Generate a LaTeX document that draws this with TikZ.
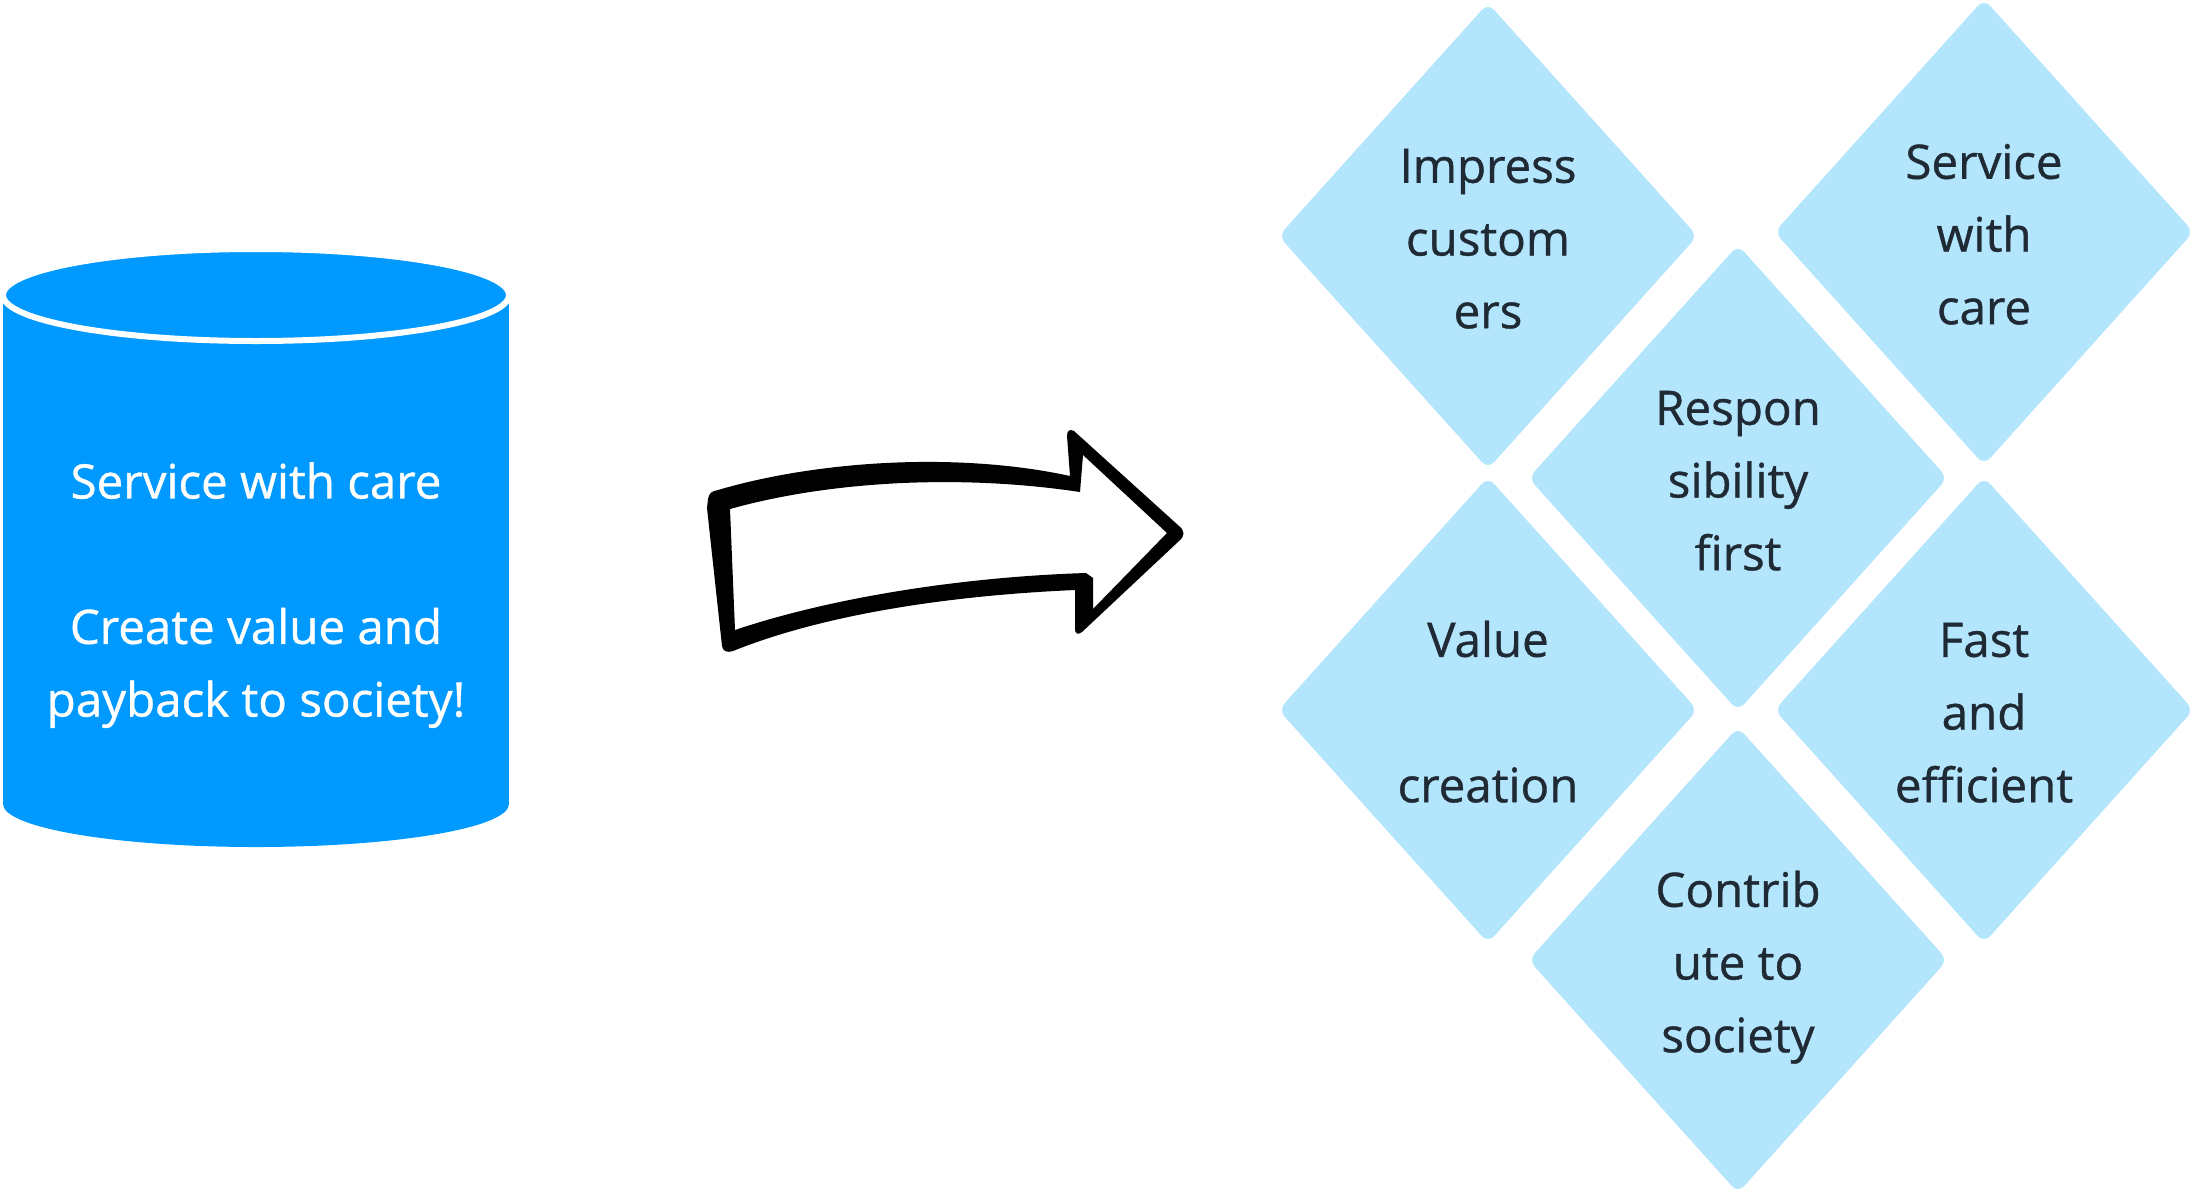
\documentclass[tikz,border=0pt]{standalone}
\usepackage{fontspec}
\setmainfont{Open Sans}[BoldFont={Open Sans}, BoldFeatures={FakeBold=0.8}]
\usetikzlibrary{shapes.geometric}
\definecolor{cylblue}{HTML}{0099FF}
\definecolor{diafill}{HTML}{B3E5FC}
\definecolor{textdark}{HTML}{1F2A35}
\newcommand{\lnstrut}{\rule[-16pt]{0pt}{71pt}}
\begin{document}
\begin{tikzpicture}[x=1pt,y=-1pt,
  dia/.style={shape=diamond, fill=diafill, minimum width=419pt, minimum height=466pt,
    inner sep=0pt, rounded corners=9pt, align=center, text=textdark,
    font=\fontsize{47.5}{72.7}\selectfont\bfseries},
  cyltext/.style={align=center, text=white, font=\fontsize{47.5}{72.7}\selectfont\bfseries}]
\useasboundingbox (0,0) rectangle (2192,1192);

% cylinder
\fill[cylblue] (3,295) rectangle (509,804);
\fill[cylblue] (256,804) ellipse [x radius=253pt, y radius=43pt];
\path[fill=cylblue, draw=white, line width=6pt] (256,295) ellipse [x radius=253pt, y radius=46pt];
\node[cyltext] (cyltxt) at (256,588) {\lnstrut Service with care\\ \lnstrut\\ \lnstrut Create value and\\ \lnstrut payback to society!};

% hand-drawn arrow
\fill[black, even odd rule]
  (707,508) -- (708,499) .. controls (709,493) and (712,491) .. (718,490)
  .. controls (820,460) and (960,452) .. (1070,476)
  -- (1067,436) .. controls (1067,430) and (1070,429) .. (1074,431)
  -- (1179,526) .. controls (1185,531) and (1185,536) .. (1179,541)
  -- (1082,632) .. controls (1078,635) and (1075,634) .. (1075,629)
  -- (1075,590)
  .. controls (960,595) and (830,612) .. (733,651)
  .. controls (726,653) and (723,651) .. (722,646)
  -- cycle
  (730,509) .. controls (830,481) and (960,474) .. (1080,492)
  -- (1083,455) -- (1167,533) -- (1093,609) -- (1093,578) -- (1086,573)
  .. controls (960,577) and (830,598) .. (735,630)
  -- cycle;

% diamonds
\node[dia] (d1) at (1488,236) {\lnstrut Impress\\ \lnstrut custom\\ \lnstrut ers};
\node[dia] (d2) at (1984,232) {\lnstrut Service\\ \lnstrut with\\ \lnstrut care};
\node[dia] (d3) at (1738,478) {\lnstrut Respon\\ \lnstrut sibility\\ \lnstrut first};
\node[dia] (d4) at (1488,710) {\lnstrut Value\\ \lnstrut\\ \lnstrut creation};
\node[dia] (d5) at (1984,710) {\lnstrut Fast\\ \lnstrut and\\ \lnstrut efficient};
\node[dia] (d6) at (1738,960) {\lnstrut Contrib\\ \lnstrut ute to\\ \lnstrut society};
\end{tikzpicture}
\end{document}
